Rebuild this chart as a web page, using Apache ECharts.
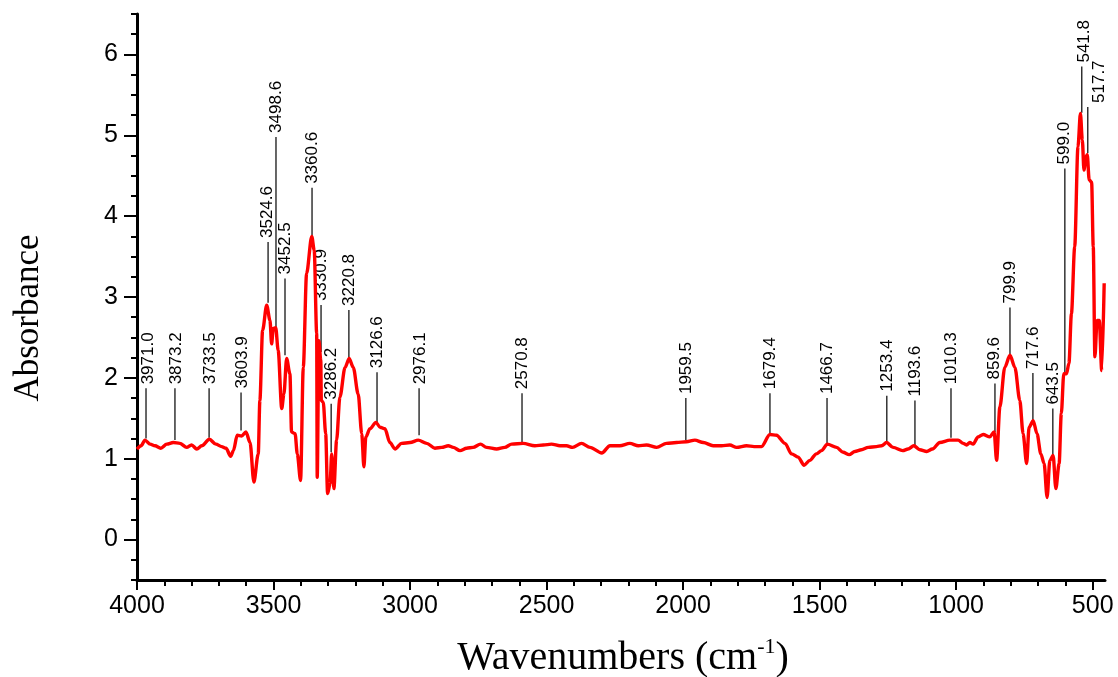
<!DOCTYPE html>
<html>
<head>
<meta charset="utf-8">
<script src="https://cdn.jsdelivr.net/npm/echarts@6/dist/echarts.min.js"></script>
<style>html,body{margin:0;padding:0;background:#fff}#c{width:1118px;height:677px}</style>
</head>
<body>
<div id="c"></div>
<script>
// Spectrum (wavenumber cm-1, absorbance)
const wn = [4000,3985,3971,3952,3934,3913,3891,3867,3843,3818,3800,3781,3763,3735,3711,3690,3674,3657,3647,3633,3617,3601,3586,3572,3556,3550,3540,3525,3513,3507,3501,3492,3483,3470,3462,3452,3440,3434,3421,3413,3401,3391,3379,3360,3351,3342,3340,3334,3327,3325,3318,3309,3302,3293,3287,3279,3269,3257,3238,3223,3208,3190,3177,3169,3162,3147,3125,3110,3092,3074,3055,3031,3000,2970,2939,2909,2884,2860,2842,2817,2793,2769,2742,2720,2683,2653,2628,2586,2543,2512,2482,2451,2427,2405,2372,2341,2298,2268,2232,2195,2164,2134,2097,2061,2024,1988,1957,1926,1890,1859,1829,1804,1768,1740,1713,1682,1658,1627,1603,1579,1557,1536,1512,1493,1472,1438,1414,1392,1371,1347,1322,1292,1273,1255,1231,1196,1176,1155,1133,1108,1087,1060,1023,993,974,962,950,938,920,901,877,861,852,840,822,803,785,767,755,742,733,718,704,690,678,667,657,645,635,623,615,606,596,587,578,566,554,545,538,532,525,520,513,504,498,492,484,476,467,458];
const absb = [1.12,1.16,1.23,1.18,1.16,1.13,1.18,1.20,1.19,1.14,1.17,1.12,1.16,1.24,1.18,1.15,1.13,1.03,1.10,1.29,1.28,1.33,1.20,0.71,1.06,1.72,2.59,2.90,2.71,2.42,2.61,2.62,2.34,1.62,1.80,2.24,2.05,1.33,1.31,1.06,0.73,2.13,3.29,3.75,3.58,2.55,0.77,2.46,2.22,1.72,1.70,1.31,0.57,0.69,1.06,0.63,1.23,1.76,2.13,2.24,2.13,1.80,1.31,0.90,1.27,1.37,1.45,1.39,1.37,1.20,1.12,1.19,1.20,1.23,1.19,1.13,1.14,1.16,1.14,1.10,1.13,1.14,1.18,1.14,1.12,1.14,1.18,1.19,1.16,1.17,1.18,1.16,1.16,1.14,1.19,1.14,1.07,1.16,1.16,1.19,1.16,1.17,1.14,1.19,1.20,1.21,1.23,1.20,1.16,1.16,1.17,1.14,1.16,1.15,1.15,1.30,1.29,1.19,1.06,1.02,0.92,0.98,1.06,1.10,1.18,1.14,1.08,1.05,1.09,1.11,1.14,1.15,1.16,1.20,1.14,1.10,1.12,1.16,1.11,1.09,1.12,1.20,1.23,1.23,1.19,1.17,1.20,1.18,1.27,1.30,1.27,1.33,0.98,1.64,2.13,2.28,2.13,1.72,1.31,0.94,1.39,1.47,1.31,1.06,0.94,0.52,0.98,1.04,0.63,0.94,1.56,2.05,2.05,2.18,2.79,3.62,4.86,5.27,4.94,4.57,4.73,4.76,4.45,4.42,3.62,2.26,2.71,2.71,2.09,3.17];

// Peak annotations: label text, leader position, leader bottom/top (absorbance), text position (wavenumber)
const annLabel  = ['3971.0','3873.2','3733.5','3603.9','3524.6','3498.6','3452.5','3360.6','3330.9','3286.2','3220.8','3126.6','2976.1','2570.8','1959.5','1679.4','1466.7','1253.4','1193.6','1010.3','859.6','799.9','717.6','643.5','599.0','541.8','517.7'];
const annW      = [3967,3861,3736,3619,3520,3491,3458,3359,3326,3289,3224,3121,2967,2590,1990,1682,1473,1254,1151,1019,858,803,719,646,602,540,518];
const annTextW  = [3960,3856,3733,3614,3522,3489,3456,3357,3324,3287,3222,3119,2964,2588,1988,1680,1471,1252,1149,1017,860,802,718,645,604,530,474];
const annBottom = [1.25,1.23,1.26,1.35,2.93,2.63,2.28,3.75,2.32,1.08,2.25,1.45,1.29,1.19,1.23,1.30,1.18,1.20,1.16,1.26,1.33,2.29,1.47,1.04,2.07,5.28,4.78];
const annTop    = [1.87,1.87,1.87,1.82,3.68,4.98,3.23,4.35,2.90,1.68,2.84,2.07,1.87,1.81,1.75,1.81,1.75,1.78,1.72,1.87,1.93,2.87,2.06,1.62,4.59,5.85,5.35];

// Axis ticks
const xMajor = [4000,3500,3000,2500,2000,1500,1000,500];
const xMinor = [4000,3900,3800,3700,3600,3500,3400,3300,3200,3100,3000,2900,2800,2700,2600,2500,2400,2300,2200,2100,2000,1900,1800,1700,1600,1500,1400,1300,1200,1100,1000,900,800,700,600,500];
const yMajor = [0,1,2,3,4,5,6];

const chart = echarts.init(document.getElementById('c'), null, {renderer: 'canvas'});
const axisCol = '#000';
const sans = '"Liberation Sans", Arial, sans-serif';
const serif = '"Liberation Serif", "Times New Roman", serif';
const plain = v => String(v);

const option = {
  animation: false,
  backgroundColor: '#fff',
  grid: {left: 137, right: 13, top: 14, bottom: 97, containLabel: false},
  xAxis: [
    {
      type: 'value', inverse: true, min: 455, max: 4000, position: 'bottom',
      axisLine: {show: true, onZero: false, lineStyle: {color: axisCol, width: 3}},
      axisTick: {show: true, customValues: xMajor, length: 10, lineStyle: {color: axisCol, width: 2}},
      axisLabel: {customValues: xMajor, formatter: plain, color: '#000', fontSize: 25, fontFamily: sans, margin: 14},
      splitLine: {show: false}
    },
    {
      type: 'value', inverse: true, min: 455, max: 4000, position: 'bottom',
      axisLine: {show: false, onZero: false},
      axisTick: {show: true, customValues: xMinor, length: 6, lineStyle: {color: axisCol, width: 2}},
      axisLabel: {show: false},
      splitLine: {show: false}
    }
  ],
  yAxis: [
    {
      type: 'value', min: -0.5, max: 6.5, position: 'left',
      axisLine: {show: true, onZero: false, lineStyle: {color: axisCol, width: 3}},
      axisTick: {show: true, customValues: yMajor, length: 13, lineStyle: {color: axisCol, width: 2}},
      axisLabel: {customValues: yMajor, formatter: plain, color: '#000', fontSize: 25, fontFamily: sans, margin: 19},
      splitLine: {show: false}
    },
    {
      type: 'value', min: -0.5, max: 6.5, interval: 0.25, position: 'left',
      axisLine: {show: false, onZero: false},
      axisTick: {show: true, length: 6, lineStyle: {color: axisCol, width: 2}},
      axisLabel: {show: false},
      splitLine: {show: false}
    }
  ],
  graphic: [
    {
      type: 'text', x: 29, y: 318, rotation: Math.PI / 2,
      style: {text: 'Absorbance', font: '35px ' + serif, fill: '#000', align: 'center', verticalAlign: 'middle'}
    },
    {
      type: 'text', x: 623, y: 658,
      style: {
        text: '{a|Wavenumbers (cm}{s|-1}{a|)}', fill: '#000', align: 'center', verticalAlign: 'middle',
        rich: {
          a: {fontSize: 40, fontFamily: serif, lineHeight: 44, fill: '#000', color: '#000'},
          s: {fontSize: 22, fontFamily: serif, lineHeight: 22, verticalAlign: 'top', fill: '#000', color: '#000'}
        }
      }
    }
  ],
  series: [
    {
      type: 'custom', xAxisIndex: 0, yAxisIndex: 0, z: 1,
      data: annW.map((w, i) => [w, annBottom[i], annTop[i], i]),
      renderItem: function (params, api) {
        const i = api.value(3);
        const p0 = api.coord([api.value(0), api.value(1)]);
        const p1 = api.coord([api.value(0), api.value(2)]);
        const pt = api.coord([annTextW[i], api.value(2)]);
        return {
          type: 'group',
          children: [
            {type: 'line', shape: {x1: p0[0], y1: p0[1], x2: p1[0], y2: p1[1]}, style: {stroke: '#000', lineWidth: 1.2}},
            {type: 'text', x: pt[0], y: p1[1] - 4, rotation: Math.PI / 2,
             style: {text: annLabel[i], font: '17px ' + sans, fill: '#000', align: 'left', verticalAlign: 'middle'}}
          ]
        };
      }
    },
    {
      type: 'line', xAxisIndex: 0, yAxisIndex: 0, z: 3,
      data: wn.map((w, i) => [w, absb[i]]),
      showSymbol: false, symbol: 'none',
      smooth: 0.3, smoothMonotone: 'x',
      lineStyle: {color: '#ff0000', width: 3.4},
      itemStyle: {color: '#ff0000'}
    }
  ]
};
chart.setOption(option);
</script>
</body>
</html>
